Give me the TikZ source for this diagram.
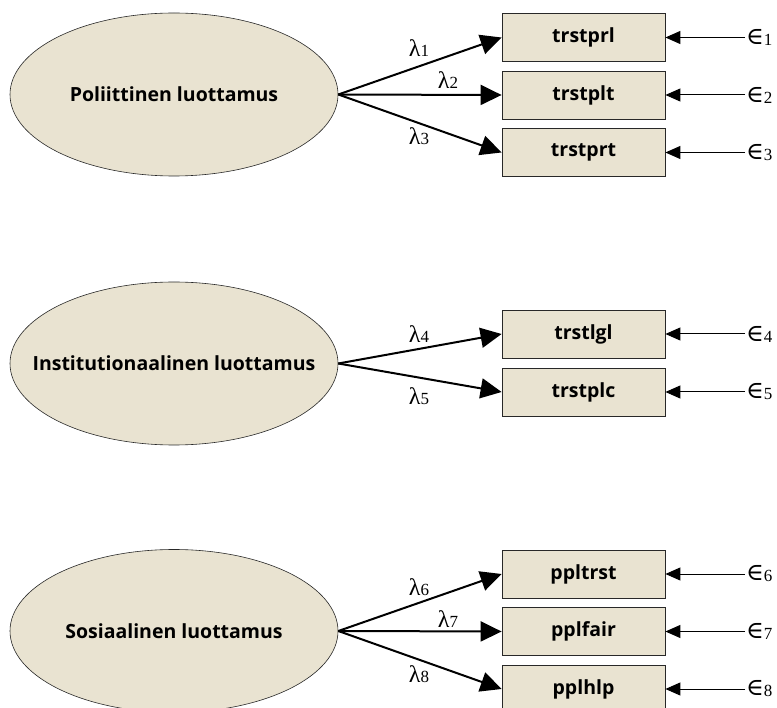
\documentclass[tikz,border=0pt]{standalone}
\usepackage{fontspec}
\setmainfont{Open Sans}
\newfontfamily\serifgr{Liberation Serif}
\newfontfamily\dejaserif{DejaVu Serif}
\usetikzlibrary{shapes.geometric,arrows.meta}
\definecolor{latfill}{RGB}{233,227,209}
\definecolor{edge}{RGB}{40,40,40}
\newcommand\lamlab[1]{{\serifgr\fontsize{24}{24}\selectfont λ\raisebox{-0.5pt}{\fontsize{17}{17}\selectfont #1}}}
\newcommand\epslab[1]{{\dejaserif\fontsize{24}{24}\selectfont ∈\raisebox{-1pt}{\serifgr\fontsize{17}{17}\selectfont #1}}}
\tikzset{
  latent/.style={ellipse, draw=edge, line width=0.6pt, fill=latfill, minimum width=328pt, minimum height=163pt, inner sep=0pt, font=\bfseries\fontsize{19.5}{21}\selectfont},
  obs/.style={rectangle, draw=edge, line width=0.8pt, fill=latfill, minimum width=163pt, minimum height=48pt, inner sep=0pt, font=\bfseries\fontsize{19.5}{21}\selectfont},
  load/.style={line width=2pt, -{Triangle[length=21pt,width=20pt]}},
  errarr/.style={line width=1pt, -{Triangle[length=15pt,width=13pt]}},
  errlab/.style={anchor=west, inner sep=1pt},
  lamnode/.style={inner sep=0pt}
}
\begin{document}
\begin{tikzpicture}[x=1pt,y=-1pt]
\useasboundingbox (0,0) rectangle (777,708);
% group 1
\node[latent] (L1) at (174,94.5) {\makebox[0pt]{Poliittinen luottamus}};
\node[obs] (o1) at (583.5,37.5) {trstprl};
\node[obs] (o2) at (583.5,95) {trstplt};
\node[obs] (o3) at (583.5,152.5) {trstprt};
% group 2
\node[latent] (L2) at (174,363.5) {\makebox[0pt]{Institutionaalinen luottamus}};
\node[obs] (o4) at (583.5,334) {trstlgl};
\node[obs] (o5) at (583.5,392) {trstplc};
% group 3
\node[latent] (L3) at (174,631) {\makebox[0pt]{Sosiaalinen luottamus}};
\node[obs] (o6) at (583.5,574) {ppltrst};
\node[obs] (o7) at (583.5,631.5) {pplfair};
\node[obs] (o8) at (583.5,689) {pplhlp};
% loadings
\foreach \l/\o in {L1/o1,L1/o2,L1/o3,L2/o4,L2/o5,L3/o6,L3/o7,L3/o8}
  \draw[load] (\l.east) -- (\o.west);
% lambda labels
\node[lamnode] (lam1) at (419,48) {\lamlab{1}};
\node[lamnode] (lam2) at (448,80) {\lamlab{2}};
\node[lamnode] (lam3) at (419,136) {\lamlab{3}};
\node[lamnode] (lam4) at (419,334) {\lamlab{4}};
\node[lamnode] (lam5) at (419,396) {\lamlab{5}};
\node[lamnode] (lam6) at (419,587) {\lamlab{6}};
\node[lamnode] (lam7) at (448,619) {\lamlab{7}};
\node[lamnode] (lam8) at (419,674) {\lamlab{8}};
% errors
\foreach \i/\y in {1/37.5,2/95,3/152.5,4/334,5/392,6/574,7/631.5,8/689}{
  \node[errlab] (e\i) at (745,\y) {\epslab{\i}};
  \draw[errarr] (e\i.west) -- (o\i.east);
}
\end{tikzpicture}
\end{document}
